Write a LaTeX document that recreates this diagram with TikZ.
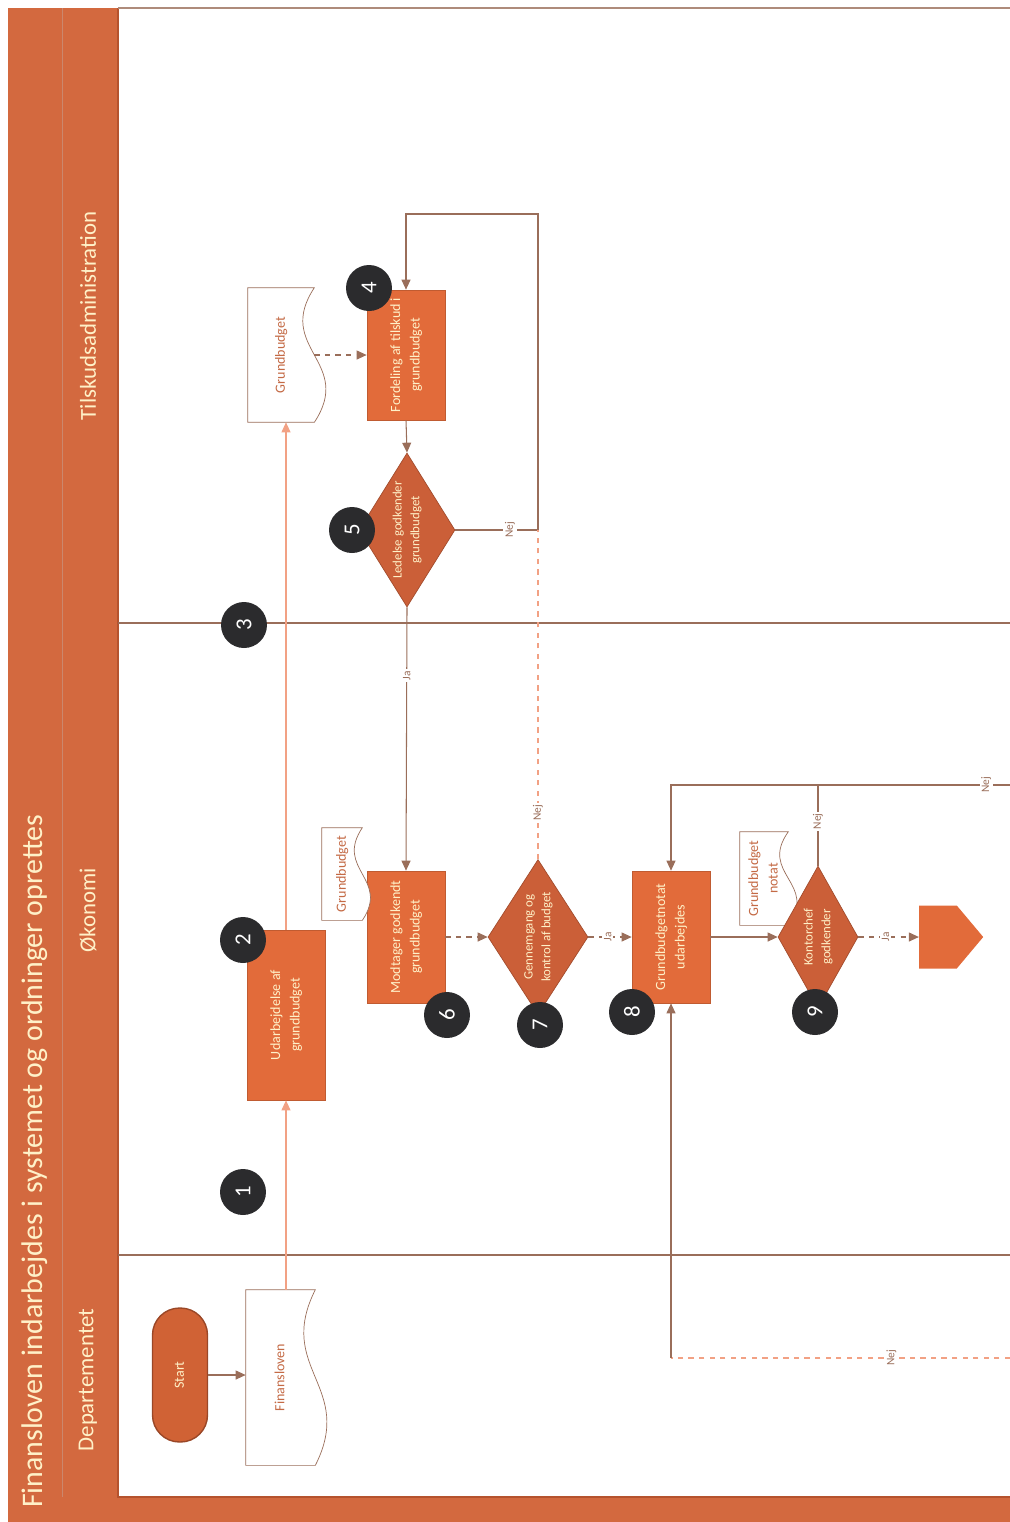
\documentclass[tikz,border=0pt]{standalone}
\usepackage{fontspec}
\setmainfont{Carlito}
\usepackage{graphicx}
\usetikzlibrary{arrows.meta,positioning,calc,shapes.geometric,shapes.symbols}
\definecolor{LaneBand}{HTML}{D3693F}
\definecolor{BandEdge}{HTML}{B5532E}
\definecolor{TaskFill}{HTML}{E26B3A}
\definecolor{GateFill}{HTML}{CB5F38}
\definecolor{FlowLine}{HTML}{9A6E5A}
\definecolor{FlowLight}{HTML}{F2A184}
\definecolor{StepDot}{HTML}{2B2B2D}
\definecolor{PaleText}{HTML}{FFF1C8}
\definecolor{DocText}{HTML}{C46A45}
\newcommand{\vtext}[1]{\rotatebox{90}{\begin{tabular}{@{}c@{}}#1\end{tabular}}}
% document symbol, wavy edge on the right
\newcommand{\docwave}[2]{\draw[draw=FlowLine,fill=white] (#1.north west) -- (#1.north east)
 .. controls ($(#1.north east)!0.45!(#1.south east)+(-#2,0)$) and ($(#1.north east)!0.55!(#1.south east)+(#2,0)$) .. (#1.south east)
 -- (#1.south west) -- cycle;}
\tikzset{>={Triangle[length=2mm,width=1.8mm]},every node/.style={font=\fontsize{8}{11}\selectfont},
 task/.style={rectangle,fill=TaskFill,draw=TaskFill!85!black,text=PaleText,minimum width=1.56cm,
 minimum height=2.64cm,inner sep=1pt},
 gate/.style={diamond,fill=GateFill,draw=GateFill!80!black,inner sep=0pt},
 gatetext/.style={text=PaleText,font=\fontsize{7.3}{10}\selectfont},
 doc/.style={rectangle,text=DocText,inner sep=0pt},
 stepno/.style={circle,fill=StepDot,text=white,minimum size=0.92cm,inner sep=0pt,
 font=\fontsize{13}{13}\selectfont},
 flow/.style={draw=FlowLine,line width=0.6pt},
 faint/.style={draw=FlowLight,line width=0.6pt},
 lbl/.style={fill=white,inner sep=1pt,text=FlowLine,font=\fontsize{6.5}{7}\selectfont,rotate=90},
 lane/.style={rotate=90,text=PaleText,font=\fontsize{13}{15}\selectfont}}

\begin{document}
\begin{tikzpicture}[x=0.02cm,y=-0.02cm]
\useasboundingbox (0,0) rectangle (1010,1522);
% bands and lanes
\fill[LaneBand] (8,8) rectangle (118,1522);
\fill[LaneBand] (8,1497) rectangle (1010,1522);
\draw[BandEdge!70,line width=0.4pt] (62,8) -- (62,1497);
\draw[BandEdge,line width=0.8pt] (118,8) -- (118,1497) -- (1010,1497);
\draw[FlowLine!80,line width=0.6pt] (118,8) -- (1010,8);
\draw[FlowLine,line width=0.7pt] (118,623) -- (1010,623);
\draw[FlowLine,line width=0.7pt] (118,1255) -- (1010,1255);
\node[rotate=90,anchor=west,text=PaleText,font=\fontsize{17}{19}\selectfont] (title) at (35,1514)
 {Finansloven indarbejdes i systemet og ordninger oprettes};
\node[lane] (ldep) at (88,1380) {Departementet};
\node[lane] (loko) at (88,910) {Økonomi};
\node[lane] (ltil) at (88,316) {Tilskudsadministration};

% Departementet
\node[rectangle,rounded corners=0.54cm,fill=TaskFill!92!black,draw=BandEdge!85!black,line width=0.8pt,
 text=PaleText,minimum width=1.1cm,minimum height=2.68cm] (start) at (180,1375) {\vtext{Start}};
\node[doc,minimum width=1.38cm,minimum height=3.5cm] (fin) at (280.5,1377.5) {};
\docwave{fin}{40}
\node[text=DocText] at (fin) {\vtext{Finansloven}};

% Økonomi
\node[task,minimum height=3.4cm] (b2) at (286,1015) {\vtext{Udarbejdelse af\\grundbudget}};
\node[task] (b6) at (406,937) {\vtext{Modtager godkendt\\grundbudget}};
\node[doc,minimum width=0.8cm,minimum height=1.84cm] (gb2) at (342,874) {};
\docwave{gb2}{28}
\node[text=DocText] at (gb2) {\vtext{Grundbudget}};
\node[gate,minimum width=2cm,minimum height=3.1cm] (d7) at (538,937) {};
\node[gatetext] at (d7) {\vtext{Gennemgang og\\kontrol af budget}};
\node[task] (b8) at (671,937) {\vtext{Grundbudgetnotat\\udarbejdes}};
\node[doc,minimum width=0.96cm,minimum height=1.86cm] (notat) at (764,878.5) {};
\docwave{notat}{30}
\node[text=DocText] at (notat) {\vtext{Grundbudget\\notat}};
\node[gate,minimum width=1.6cm,minimum height=2.84cm] (d9) at (818,937) {};
\node[gatetext] at (d9) {\vtext{Kontorchef\\godkender}};
\node[signal,signal to=east,signal pointer angle=100,fill=TaskFill,minimum width=1.28cm,
 minimum height=1.26cm] (off) at (938,937) {};

% Tilskudsadministration
\node[doc,minimum width=1.32cm,minimum height=2.68cm] (gb1) at (281,355) {};
\docwave{gb1}{40}
\node[text=DocText] at (gb1) {\vtext{Grundbudget}};
\node[task,minimum height=2.6cm] (b4) at (406,355) {\vtext{Fordeling af tilskud i\\grundbudget}};
\node[gate,minimum width=1.92cm,minimum height=3.08cm] (d5) at (407,530) {};
\node[gatetext] at (d5) {\vtext{Ledelse godkender\\grundbudget}};

% connectors
\coordinate (loop) at (538,214);
\coordinate (r1) at (1010,785);
\coordinate (r2) at (1010,1358);
\draw[flow,->] (start) -- (fin.west |- start);
\draw[faint,->] (b2.south |- fin.north) -- (b2.south);
\draw[faint,->] (b2.north) -- (b2.north |- gb1.south);
\draw[flow,dashed,->] (gb1.east) -- (b4.west);
\draw[flow,->] (b4.south) -- (d5.north);
\draw[flow,->] (d5.east) -- node[lbl,pos=0.66] {Nej} (d5.east -| loop) -- (loop) -| (b4.north);
\draw[flow,->] (d5.south) -- node[lbl,pos=0.26] {Ja} (b6.north);
\draw[faint,dashed] (d7.north) -- node[lbl,pos=0.14] {Nej} (d7.north |- d5.east);
\draw[flow,dashed,->] (b6.east) -- (d7.west);
\draw[flow,dashed,->] (d7.east) -- node[lbl,pos=0.45] {Ja} (b8.west);
\draw[flow,->] (b8.east) -- (d9.west);
\draw[flow] (d9.north) -- node[lbl,pos=0.55] {Nej} (d9.north |- r1);
\draw[flow,->] (r1) -- node[lbl,pos=0.07] {Nej} (r1 -| b8.north) -- (b8.north);
\draw[flow,dashed,->] (d9.east) -- node[lbl,pos=0.45] {Ja} (off.west);
\draw[faint,dashed] (r2) -- node[lbl,pos=0.35] {Nej} (r2 -| b8.south);
\draw[flow,->] (r2 -| b8.south) -- (b8.south);

% step numbers
\node[stepno] (n1) at (243,1192) {\rotatebox{90}{1}};
\node[stepno] (n2) at (243,940) {\rotatebox{90}{2}};
\node[stepno] (n3) at (244,625) {\rotatebox{90}{3}};
\node[stepno] (n4) at (369,288) {\rotatebox{90}{4}};
\node[stepno] (n5) at (352,530) {\rotatebox{90}{5}};
\node[stepno] (n6) at (447,1015) {\rotatebox{90}{6}};
\node[stepno] (n7) at (540,1025) {\rotatebox{90}{7}};
\node[stepno] (n8) at (632,1012) {\rotatebox{90}{8}};
\node[stepno] (n9) at (815,1012) {\rotatebox{90}{9}};
\end{tikzpicture}
\end{document}
